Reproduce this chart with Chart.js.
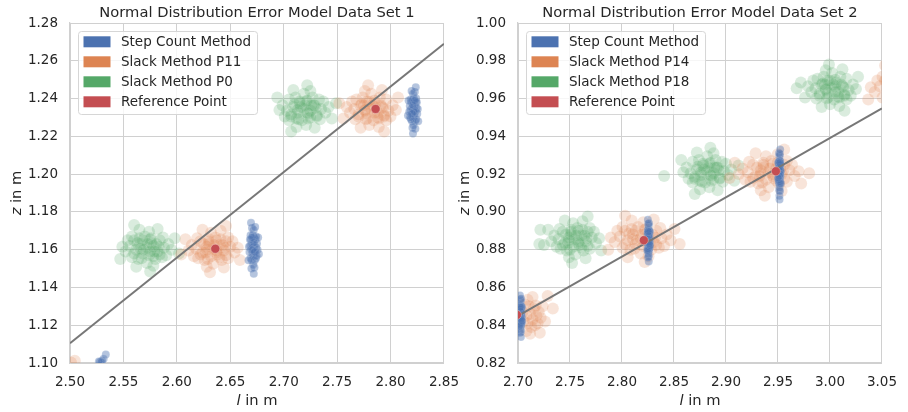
<!DOCTYPE html>
<html>
<head>
<meta charset="utf-8">
<script src="https://cdn.jsdelivr.net/npm/chart.js@4.4.1/dist/chart.umd.min.js"></script>
<style>
  html, body { margin: 0; padding: 0; background: #fff; }
  #wrap { position: relative; width: 908px; height: 412px; overflow: hidden; }
  #c1 { position: absolute; left: 0; top: 0; }
  #c2 { position: absolute; left: 454px; top: 0; }
</style>
</head>
<body>
<div id="wrap">
  <canvas id="c1" width="470" height="412"></canvas>
  <canvas id="c2" width="454" height="412"></canvas>
</div>
<script>
// =======================
// data set 1 (left)
// =======================

const xTicksLeft = [2.50, 2.55, 2.60, 2.65, 2.70, 2.75, 2.80, 2.85];
const yTicksLeft = [1.10, 1.12, 1.14, 1.16, 1.18, 1.20, 1.22, 1.24, 1.26, 1.28];

const leftStepCount = [
  [2.528,1.1005],[2.530,1.1012],[2.5295,1.1003],[2.5335,1.1045],[2.5315,1.1022],[2.527,1.1008],
  [2.6715,1.161],[2.6725,1.1621],[2.6705,1.1632],[2.672,1.1566],[2.6708,1.1577],[2.6733,1.1588],[2.6698,1.1599],[2.6722,1.1665],
  [2.6712,1.1676],[2.6736,1.1654],[2.6694,1.1654],[2.6729,1.1544],[2.6701,1.1544],[2.6743,1.161],[2.6687,1.1621],[2.6715,1.1522],
  [2.6719,1.1704],[2.674,1.1555],[2.669,1.1555],[2.6741,1.167],[2.669,1.1676],[2.675,1.1632],[2.668,1.1588],[2.6726,1.1506],
  [2.6703,1.1715],[2.6747,1.1566],[2.6684,1.1654],[2.6755,1.1599],[2.6675,1.1616],[2.6733,1.172],[2.6698,1.150],[2.6761,1.1665],
  [2.6671,1.1544],[2.6722,1.1638],[2.671,1.1599],[2.6727,1.1588],[2.6703,1.1665],[2.6768,1.1577],[2.6694,1.1742],[2.672,1.1473],
  [2.8215,1.234],[2.8205,1.235],[2.8225,1.236],[2.8211,1.230],[2.8222,1.231],[2.8197,1.232],[2.8232,1.233],[2.8208,1.239],
  [2.8218,1.240],[2.8194,1.238],[2.8236,1.238],[2.8201,1.228],[2.8229,1.228],[2.8187,1.234],[2.8243,1.235],[2.8215,1.226],
  [2.8211,1.2425],[2.819,1.229],[2.824,1.229],[2.8189,1.2395],[2.824,1.240],[2.818,1.236],[2.825,1.232],[2.8205,1.2245],
  [2.8227,1.2435],[2.8183,1.230],[2.8246,1.238],[2.8175,1.233],[2.8255,1.2345],[2.8197,1.244],[2.8232,1.224],[2.8169,1.239],
  [2.8259,1.228],[2.8208,1.2365],[2.822,1.233],[2.8203,1.232],[2.8227,1.239],[2.8163,1.231],[2.8236,1.246],[2.821,1.2215]
];

const leftSlackP11 = [
  [2.5045,1.1012],[2.501,1.1003],
  [2.634,1.1605],[2.628,1.1615],[2.640,1.1625],[2.632,1.1565],[2.638,1.1575],[2.624,1.1585],[2.644,1.1595],[2.630,1.1655],
  [2.636,1.1665],[2.622,1.1645],[2.646,1.1645],[2.626,1.1545],[2.642,1.1545],[2.618,1.1605],[2.650,1.1615],[2.634,1.1525],
  [2.632,1.169],[2.620,1.1555],[2.648,1.1555],[2.619,1.166],[2.648,1.1665],[2.614,1.1625],[2.654,1.1585],[2.628,1.151],
  [2.641,1.170],[2.616,1.1565],[2.652,1.1645],[2.611,1.1595],[2.657,1.161],[2.624,1.1705],[2.644,1.1505],[2.608,1.1655],
  [2.659,1.1545],[2.630,1.163],[2.637,1.1595],[2.627,1.1585],[2.641,1.1655],[2.604,1.1575],[2.646,1.1725],[2.631,1.148],
  [2.637,1.165],[2.625,1.163],[2.643,1.1625],[2.629,1.155],[2.646,1.157],[2.622,1.1575],
  [2.635,1.1625],[2.628,1.160],[2.637,1.1585],[2.645,1.161],[2.630,1.1645],[2.640,1.156],
  [2.782,1.2345],[2.776,1.2335],[2.788,1.2325],[2.780,1.2385],[2.786,1.2375],[2.772,1.2365],[2.792,1.2355],[2.778,1.2295],
  [2.784,1.2285],[2.770,1.2305],[2.794,1.2305],[2.774,1.2405],[2.790,1.2405],[2.766,1.2345],[2.798,1.2335],[2.782,1.2425],
  [2.780,1.226],[2.768,1.2395],[2.796,1.2395],[2.767,1.229],[2.796,1.2285],[2.762,1.2325],[2.802,1.2365],[2.776,1.244],
  [2.789,1.225],[2.764,1.2385],[2.800,1.2305],[2.759,1.2355],[2.805,1.234],[2.772,1.2245],[2.792,1.2445],[2.756,1.2295],
  [2.807,1.2405],[2.778,1.232],[2.785,1.2355],[2.775,1.2365],[2.789,1.2295],[2.752,1.2375],[2.794,1.2225],[2.779,1.247],
  [2.785,1.239],[2.773,1.237],[2.791,1.2365],[2.777,1.229],[2.794,1.231],[2.770,1.2315],
  [2.783,1.2365],[2.776,1.234],[2.785,1.2325],[2.793,1.235],[2.778,1.2385],[2.788,1.230]
];

const leftSlackP0 = [
  [2.572,1.161],[2.578,1.162],[2.566,1.163],[2.574,1.157],[2.568,1.158],[2.582,1.159],[2.562,1.160],[2.576,1.166],
  [2.570,1.167],[2.584,1.165],[2.560,1.165],[2.580,1.155],[2.564,1.155],[2.588,1.161],[2.556,1.162],[2.572,1.153],
  [2.574,1.1695],[2.586,1.156],[2.558,1.156],[2.587,1.1665],[2.558,1.167],[2.592,1.163],[2.552,1.159],[2.578,1.1515],
  [2.565,1.1705],[2.590,1.157],[2.554,1.165],[2.595,1.160],[2.549,1.1615],[2.582,1.171],[2.562,1.151],[2.598,1.166],
  [2.547,1.155],[2.576,1.1635],[2.569,1.160],[2.579,1.159],[2.565,1.166],[2.602,1.158],[2.560,1.173],[2.575,1.1485],
  [2.575,1.1655],[2.563,1.1635],[2.581,1.163],[2.567,1.1555],[2.584,1.1575],[2.560,1.158],
  [2.573,1.163],[2.566,1.1605],[2.575,1.159],[2.583,1.1615],[2.568,1.165],[2.578,1.1565],
  [2.719,1.2345],[2.725,1.2335],[2.713,1.2325],[2.721,1.2385],[2.715,1.2375],[2.729,1.2365],[2.709,1.2355],[2.723,1.2295],
  [2.717,1.2285],[2.731,1.2305],[2.707,1.2305],[2.727,1.2405],[2.711,1.2405],[2.735,1.2345],[2.703,1.2335],[2.719,1.2425],
  [2.721,1.226],[2.733,1.2395],[2.705,1.2395],[2.734,1.229],[2.705,1.2285],[2.739,1.2325],[2.699,1.2365],[2.725,1.244],
  [2.712,1.225],[2.737,1.2385],[2.701,1.2305],[2.742,1.2355],[2.696,1.234],[2.729,1.2245],[2.709,1.2445],[2.745,1.2295],
  [2.694,1.2405],[2.723,1.232],[2.716,1.2355],[2.726,1.2365],[2.712,1.2295],[2.749,1.2375],[2.707,1.2225],[2.722,1.247],
  [2.722,1.239],[2.710,1.237],[2.728,1.2365],[2.714,1.229],[2.731,1.231],[2.707,1.2315],
  [2.720,1.2365],[2.713,1.234],[2.722,1.2325],[2.730,1.235],[2.715,1.2385],[2.725,1.230]
];

const leftReference = [[2.636, 1.1605], [2.786, 1.2345]];
const leftFit = [[2.50, 1.1105], [2.85, 1.2690]];

// =======================
// data set 2 (right)
// =======================

const xTicksRight = [2.70, 2.75, 2.80, 2.85, 2.90, 2.95, 3.00, 3.05];
const yTicksRight = [0.82, 0.84, 0.86, 0.88, 0.90, 0.92, 0.94, 0.96, 0.98, 1.00];

const rightStepCount = [
  [2.7025,0.845],[2.7028,0.8459],[2.7022,0.8468],[2.7026,0.8414],[2.7023,0.8423],[2.703,0.8432],[2.702,0.8441],[2.7027,0.8495],
  [2.7024,0.8504],[2.7031,0.8486],[2.7019,0.8486],[2.7029,0.8396],[2.7021,0.8396],[2.7033,0.845],[2.7017,0.8459],[2.7025,0.8378],
  [2.7026,0.8527],[2.7032,0.8405],[2.7018,0.8405],[2.7033,0.85],[2.7018,0.8504],[2.7035,0.8468],[2.7015,0.8432],[2.7028,0.8365],
  [2.7022,0.8536],[2.7034,0.8414],[2.7016,0.8486],[2.7037,0.8441],[2.7014,0.8455],[2.703,0.854],[2.702,0.836],[2.7038,0.8495],
  [2.7013,0.8396],[2.7027,0.8473],[2.7024,0.8441],[2.7029,0.8432],[2.7022,0.8495],[2.704,0.8423],[2.7019,0.8558],[2.7027,0.8338],
  [2.8255,0.885],[2.8258,0.8859],[2.8252,0.8868],[2.8256,0.8814],[2.8253,0.8823],[2.826,0.8832],[2.825,0.8841],[2.8257,0.8895],
  [2.8254,0.8904],[2.8261,0.8886],[2.8249,0.8886],[2.8259,0.8796],[2.8251,0.8796],[2.8263,0.885],[2.8247,0.8859],[2.8255,0.8778],
  [2.8256,0.8927],[2.8262,0.8805],[2.8248,0.8805],[2.8263,0.89],[2.8248,0.8904],[2.8265,0.8868],[2.8245,0.8832],[2.8258,0.8765],
  [2.8252,0.8936],[2.8264,0.8814],[2.8246,0.8886],[2.8267,0.8841],[2.8244,0.8855],[2.826,0.894],[2.825,0.876],[2.8268,0.8895],
  [2.8243,0.8796],[2.8257,0.8873],[2.8254,0.8841],[2.8259,0.8832],[2.8252,0.8895],[2.827,0.8823],[2.8249,0.8958],[2.8257,0.8738],
  [2.9515,0.921],[2.9512,0.922],[2.9518,0.923],[2.9514,0.917],[2.9517,0.918],[2.951,0.919],[2.952,0.920],[2.9513,0.926],
  [2.9516,0.927],[2.9509,0.925],[2.9521,0.925],[2.9511,0.915],[2.9519,0.915],[2.9507,0.921],[2.9523,0.922],[2.9515,0.913],
  [2.9514,0.9295],[2.9508,0.916],[2.9522,0.916],[2.9508,0.9265],[2.9522,0.927],[2.9505,0.923],[2.9525,0.919],[2.9512,0.9115],
  [2.9519,0.9305],[2.9506,0.917],[2.9524,0.925],[2.9504,0.920],[2.9527,0.9215],[2.951,0.931],[2.952,0.911],[2.9502,0.926],
  [2.9528,0.915],[2.9513,0.9235],[2.9517,0.920],[2.9512,0.919],[2.9519,0.926],[2.95,0.918],[2.9521,0.933],[2.9514,0.9085],
  [2.9515,0.9065]
];

const rightSlackP14 = [
  [2.708,0.845],[2.7116,0.846],[2.7044,0.847],[2.7092,0.841],[2.714,0.843],[2.7104,0.850],[2.7152,0.849],[2.7128,0.839],
  [2.7176,0.845],[2.708,0.837],[2.7092,0.8535],[2.7164,0.840],[2.717,0.8505],[2.720,0.847],[2.7116,0.8355],[2.7188,0.841],
  [2.7218,0.844],[2.714,0.855],[2.7236,0.850],[2.726,0.842],[2.7335,0.8488],[2.7285,0.8555],[2.721,0.836],[2.7068,0.851],
  [2.7056,0.842],
  [2.818,0.886],[2.8255,0.887],[2.8105,0.888],[2.8205,0.882],[2.813,0.883],[2.8305,0.884],[2.8055,0.885],[2.823,0.891],
  [2.8155,0.892],[2.833,0.890],[2.803,0.890],[2.828,0.880],[2.808,0.880],[2.838,0.886],[2.798,0.887],[2.818,0.878],
  [2.8205,0.8945],[2.8355,0.881],[2.8005,0.881],[2.8368,0.8915],[2.8005,0.892],[2.843,0.888],[2.793,0.884],[2.8255,0.8765],
  [2.8093,0.8955],[2.8405,0.882],[2.7955,0.890],[2.8468,0.885],[2.7893,0.8865],[2.8305,0.896],[2.8055,0.876],[2.8505,0.891],
  [2.7868,0.880],[2.823,0.8885],[2.8143,0.885],[2.8268,0.884],[2.8093,0.891],[2.8555,0.883],[2.803,0.898],[2.8218,0.8735],
  [2.8218,0.8905],[2.8068,0.8885],[2.8293,0.888],[2.8118,0.8805],[2.833,0.8825],[2.803,0.883],
  [2.8193,0.888],[2.8105,0.8855],[2.8218,0.884],[2.8318,0.8865],[2.813,0.890],[2.8255,0.8815],
  [2.941,0.921],[2.9335,0.922],[2.9485,0.923],[2.9385,0.917],[2.946,0.918],[2.9285,0.919],[2.9535,0.920],[2.936,0.926],
  [2.9435,0.927],[2.926,0.925],[2.956,0.925],[2.931,0.915],[2.951,0.915],[2.921,0.921],[2.961,0.922],[2.941,0.913],
  [2.9385,0.9295],[2.9235,0.916],[2.9585,0.916],[2.9223,0.9265],[2.9585,0.927],[2.916,0.923],[2.966,0.919],[2.9335,0.9115],
  [2.9498,0.9305],[2.9185,0.917],[2.9635,0.925],[2.9123,0.920],[2.9698,0.9215],[2.9285,0.931],[2.9535,0.911],[2.9085,0.926],
  [2.9723,0.915],[2.936,0.9235],[2.9448,0.920],[2.9323,0.919],[2.9498,0.926],[2.9035,0.918],[2.956,0.933],[2.9373,0.9085],
  [2.980,0.9205],
  [2.9448,0.9255],[2.9298,0.9235],[2.9523,0.923],[2.9348,0.9155],[2.956,0.9175],[2.926,0.918],
  [2.9423,0.923],[2.9335,0.9205],[2.9448,0.919],[2.9548,0.9215],[2.936,0.925],[2.9485,0.9165],
  [3.0605,0.9675],[3.063,0.9625],[3.0555,0.9645],[3.053,0.9695],[3.058,0.9595],[3.048,0.9665],[3.0505,0.9605],[3.0505,0.9715],
  [3.043,0.9635],[3.0593,0.975],[3.0455,0.9695],[3.0393,0.966],[3.0555,0.9555],[3.0368,0.9595],[3.0593,0.9705],[3.053,0.9775]
];

const rightSlackP18 = [
  [2.755,0.8855],[2.749,0.8865],[2.761,0.8875],[2.753,0.8815],[2.759,0.8825],[2.745,0.8835],[2.765,0.8845],[2.751,0.8905],
  [2.757,0.8915],[2.743,0.8895],[2.767,0.8895],[2.747,0.8795],[2.763,0.8795],[2.739,0.8855],[2.771,0.8865],[2.755,0.8775],
  [2.753,0.894],[2.741,0.8805],[2.769,0.8805],[2.740,0.891],[2.769,0.8915],[2.735,0.8875],[2.775,0.8835],[2.749,0.876],
  [2.762,0.895],[2.737,0.8815],[2.773,0.8895],[2.732,0.8845],[2.778,0.886],[2.745,0.8955],[2.765,0.8755],[2.729,0.8905],
  [2.780,0.8795],[2.751,0.888],[2.758,0.8845],[2.748,0.8835],[2.762,0.8905],[2.725,0.8825],[2.767,0.8975],[2.752,0.873],
  [2.7205,0.883],[2.7215,0.8905],
  [2.758,0.890],[2.746,0.888],[2.764,0.8875],[2.750,0.880],[2.767,0.882],[2.743,0.8825],
  [2.756,0.8875],[2.749,0.885],[2.758,0.8835],[2.766,0.886],[2.751,0.8895],[2.761,0.881],
  [2.882,0.9215],[2.888,0.9205],[2.876,0.9195],[2.884,0.9255],[2.878,0.9245],[2.892,0.9235],[2.872,0.9225],[2.886,0.9165],
  [2.880,0.9155],[2.894,0.9175],[2.870,0.9175],[2.890,0.9275],[2.874,0.9275],[2.898,0.9215],[2.866,0.9205],[2.882,0.9295],
  [2.884,0.913],[2.896,0.9265],[2.868,0.9265],[2.897,0.916],[2.868,0.9155],[2.902,0.9195],[2.862,0.9235],[2.888,0.931],
  [2.875,0.912],[2.900,0.9255],[2.864,0.9175],[2.905,0.9225],[2.859,0.921],[2.892,0.9115],[2.872,0.9315],[2.908,0.9165],
  [2.857,0.9275],[2.886,0.919],[2.879,0.9225],[2.889,0.9235],[2.875,0.9165],[2.912,0.9245],[2.870,0.9095],[2.885,0.934],
  [2.8405,0.919],
  [2.885,0.926],[2.873,0.924],[2.891,0.9235],[2.877,0.916],[2.894,0.918],[2.870,0.9185],
  [2.883,0.9235],[2.876,0.921],[2.885,0.9195],[2.893,0.922],[2.878,0.9255],[2.888,0.917],
  [3.002,0.9655],[2.996,0.9645],[3.008,0.9635],[3.000,0.9695],[3.006,0.9685],[2.992,0.9675],[3.012,0.9665],[2.998,0.9605],
  [3.004,0.9595],[2.990,0.9615],[3.014,0.9615],[2.994,0.9715],[3.010,0.9715],[2.986,0.9655],[3.018,0.9645],[3.002,0.9735],
  [3.000,0.957],[2.988,0.9705],[3.016,0.9705],[2.987,0.960],[3.016,0.9595],[2.982,0.9635],[3.022,0.9675],[2.996,0.975],
  [3.009,0.956],[2.984,0.9695],[3.020,0.9615],[2.979,0.9665],[3.025,0.965],[2.992,0.9555],[3.012,0.9755],[2.976,0.9605],
  [3.027,0.9715],[2.998,0.963],[3.005,0.9665],[2.995,0.9675],[3.009,0.9605],[2.972,0.9685],[3.014,0.9535],[2.999,0.978],
  [2.968,0.9655],
  [3.005,0.970],[2.993,0.968],[3.011,0.9675],[2.997,0.960],[3.014,0.962],[2.990,0.9625],
  [3.003,0.9675],[2.996,0.965],[3.005,0.9635],[3.013,0.966],[2.998,0.9695],[3.008,0.961]
];

const rightReference = [[2.699, 0.8455], [2.821, 0.885], [2.948, 0.9215]];
const rightFit = [[2.70, 0.8449], [3.05, 0.9548]];

// =======================
// styling helpers
// =======================

const FONT = '"DejaVu Sans", sans-serif';
const INK = '#262626';
const GRID = '#d0d0d0';
const BLUE = '76,114,176';
const ORANGE = '221,132,82';
const GREEN = '85,168,104';
const RED = '196,78,82';

function cloud(label, data, rgb, order, radius, alpha) {
  return {
    label, data, order, clip: 0,
    legendColor: `rgb(${rgb})`,
    pointRadius: radius,
    pointHoverRadius: radius,
    pointBackgroundColor: `rgba(${rgb},${alpha})`,
    pointBorderColor: `rgba(255,255,255,${alpha * 0.5})`,
    pointBorderWidth: 0.5
  };
}

function referenceSet(data) {
  return {
    label: 'Reference Point', data, order: 0, clip: 0,
    legendColor: `rgb(${RED})`,
    pointRadius: 4.5, pointHoverRadius: 4.5,
    pointBackgroundColor: `rgb(${RED})`,
    pointBorderColor: 'rgba(255,255,255,0.6)',
    pointBorderWidth: 0.5
  };
}

function fitSet(data) {
  return {
    label: 'fit', data, order: 1, clip: 0,
    showLine: true, borderColor: '#777777', borderWidth: 2,
    pointRadius: 0, pointHoverRadius: 0
  };
}

function drawLabel(ctx, italicPart, rest, x, y) {
  ctx.font = 'italic 14.7px ' + FONT;
  const w1 = ctx.measureText(italicPart).width;
  ctx.font = '14.7px ' + FONT;
  const w2 = ctx.measureText(rest).width;
  const x0 = x - (w1 + w2) / 2;
  ctx.textAlign = 'left';
  ctx.font = 'italic 14.7px ' + FONT;
  ctx.fillText(italicPart, x0, y);
  ctx.font = '14.7px ' + FONT;
  ctx.fillText(rest, x0 + w1, y);
}

// title, axis labels and the legend box inside the axes
const mplDecor = {
  id: 'mplDecor',
  afterDraw(chart, args, opts) {
    const { ctx, chartArea: a } = chart;
    const cx = (a.left + a.right) / 2;
    ctx.save();
    ctx.fillStyle = INK;
    ctx.textBaseline = 'alphabetic';
    ctx.textAlign = 'center';
    ctx.font = '14.7px ' + FONT;
    ctx.fillText(opts.title, cx, 16.5);

    drawLabel(ctx, 'l', ' in m', cx, 404.5);

    ctx.save();
    ctx.translate(a.left - 49, (a.top + a.bottom) / 2);
    ctx.rotate(-Math.PI / 2);
    drawLabel(ctx, 'z', ' in m', 0, 0);
    ctx.restore();

    const items = chart.data.datasets.filter(d => d.legendColor);
    ctx.font = '13.5px ' + FONT;
    const maxW = Math.max(...items.map(d => ctx.measureText(d.label).width));
    const bx = a.left + 8.5, by = a.top + 8.5, bw = 43 + maxW + 6, bh = 83;
    ctx.beginPath();
    if (ctx.roundRect) ctx.roundRect(bx, by, bw, bh, 3);
    else ctx.rect(bx, by, bw, bh);
    ctx.fillStyle = 'rgba(255,255,255,0.8)';
    ctx.fill();
    ctx.strokeStyle = '#d6d6d6';
    ctx.lineWidth = 1;
    ctx.stroke();
    items.forEach((d, i) => {
      const rowY = by + 10.3 + i * 20;
      ctx.fillStyle = d.legendColor;
      ctx.fillRect(bx + 5, rowY - 5.5, 27, 11);
      ctx.fillStyle = INK;
      ctx.textAlign = 'left';
      ctx.fillText(d.label, bx + 42.5, rowY + 4.4);
    });
    ctx.restore();
  }
};

function axes(xTicks, yTicks, yWidth) {
  const tickFont = { family: 'DejaVu Sans', size: 13.5 };
  return {
    x: {
      type: 'linear',
      min: xTicks[0],
      max: xTicks[xTicks.length - 1],
      afterBuildTicks: s => { s.ticks = xTicks.map(v => ({ value: v })); },
      afterFit: s => { s.height = 49; },
      ticks: { font: tickFont, color: INK, padding: 11, maxRotation: 0, autoSkip: false,
               callback: v => v.toFixed(2) },
      grid: { color: GRID, lineWidth: 1, drawTicks: false },
      border: { color: GRID, width: 1.25 }
    },
    y: {
      type: 'linear',
      min: yTicks[0],
      max: yTicks[yTicks.length - 1],
      afterBuildTicks: s => { s.ticks = yTicks.map(v => ({ value: v })); },
      afterFit: s => { s.width = yWidth; },
      ticks: { font: tickFont, color: INK, padding: 12, autoSkip: false,
               callback: v => v.toFixed(2) },
      grid: { color: GRID, lineWidth: 1, drawTicks: false },
      border: { color: GRID, width: 1.25 }
    }
  };
}

function panel(canvasId, title, datasets, xTicks, yTicks, yWidth, padRight) {
  new Chart(document.getElementById(canvasId), {
    type: 'scatter',
    data: { datasets },
    options: {
      responsive: false,
      devicePixelRatio: 1,
      animation: false,
      events: [],
      layout: { padding: { top: 23, right: padRight, left: 0, bottom: 0 } },
      scales: axes(xTicks, yTicks, yWidth),
      plugins: {
        legend: { display: false },
        tooltip: { enabled: false },
        mplDecor: { title }
      }
    },
    plugins: [mplDecor]
  });
}

panel('c1', 'Normal Distribution Error Model Data Set 1', [
  cloud('Step Count Method', leftStepCount, BLUE, 2, 4, 0.42),
  cloud('Slack Method P11', leftSlackP11, ORANGE, 3, 6, 0.22),
  cloud('Slack Method P0', leftSlackP0, GREEN, 4, 6, 0.22),
  referenceSet(leftReference),
  fitSet(leftFit)
], xTicksLeft, yTicksLeft, 70, 26);

panel('c2', 'Normal Distribution Error Model Data Set 2', [
  cloud('Step Count Method', rightStepCount, BLUE, 2, 4, 0.42),
  cloud('Slack Method P14', rightSlackP14, ORANGE, 3, 6, 0.22),
  cloud('Slack Method P18', rightSlackP18, GREEN, 4, 6, 0.22),
  referenceSet(rightReference),
  fitSet(rightFit)
], xTicksRight, yTicksRight, 64, 16);
</script>
</body>
</html>
